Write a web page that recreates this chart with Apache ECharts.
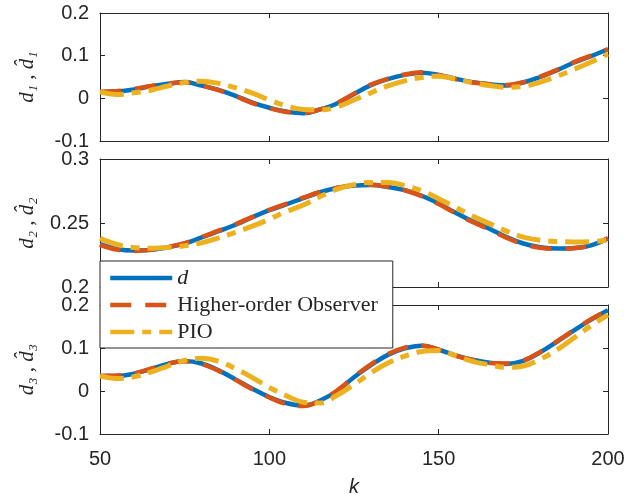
<!DOCTYPE html>
<html><head><meta charset="utf-8">
<script src="https://cdn.jsdelivr.net/npm/echarts@6/dist/echarts.min.js"></script>
<style>html,body{margin:0;padding:0;background:#fff}#c{width:643px;height:499px}</style>
</head><body><div id="c"></div><script>
const k = [50,55,60,65,70,75,80,85,90,95,100,105,110,115,120,125,130,135,140,145,150,155,160,165,170,175,180,185,190,195,200];

const d1 = [0.015,0.016,0.021,0.028,0.034,0.038,0.030,0.020,0.006,-0.010,-0.022,-0.031,-0.035,-0.026,-0.012,0.010,0.031,0.045,0.055,0.060,0.055,0.046,0.038,0.033,0.030,0.037,0.050,0.066,0.084,0.099,0.115];
const h1 = [0.015,0.017,0.022,0.029,0.035,0.037,0.030,0.019,0.005,-0.011,-0.023,-0.032,-0.034,-0.026,-0.011,0.011,0.032,0.046,0.056,0.061,0.055,0.045,0.037,0.033,0.031,0.038,0.051,0.067,0.085,0.100,0.115];
const p1 = [0.015,0.009,0.013,0.019,0.029,0.037,0.040,0.035,0.025,0.012,-0.004,-0.018,-0.026,-0.027,-0.020,-0.004,0.013,0.029,0.041,0.049,0.052,0.045,0.037,0.030,0.026,0.028,0.038,0.052,0.068,0.085,0.104];

const d2 = [0.2334,0.2297,0.2285,0.2290,0.2310,0.2340,0.2387,0.2436,0.2486,0.2545,0.2600,0.2645,0.2695,0.2740,0.2773,0.2792,0.2797,0.2782,0.2757,0.2713,0.2652,0.2580,0.2513,0.2455,0.2390,0.2340,0.2310,0.2300,0.2305,0.2325,0.2380];
const h2 = [0.2330,0.2292,0.2282,0.2290,0.2312,0.2343,0.2390,0.2440,0.2490,0.2548,0.2603,0.2650,0.2698,0.2742,0.2775,0.2795,0.2798,0.2783,0.2756,0.2710,0.2648,0.2576,0.2508,0.2450,0.2385,0.2336,0.2306,0.2298,0.2303,0.2325,0.2380];
const p2 = [0.2380,0.2332,0.2308,0.2302,0.2308,0.2322,0.2345,0.2384,0.2427,0.2475,0.2530,0.2590,0.2640,0.2707,0.2764,0.2800,0.2817,0.2817,0.2792,0.2752,0.2690,0.2622,0.2555,0.2495,0.2437,0.2390,0.2365,0.2355,0.2352,0.2354,0.2367];

const d3 = [0.035,0.035,0.040,0.051,0.063,0.070,0.064,0.048,0.027,0.005,-0.014,-0.028,-0.034,-0.022,0.000,0.032,0.060,0.084,0.099,0.105,0.096,0.083,0.073,0.066,0.063,0.070,0.090,0.115,0.141,0.166,0.188];
const h3 = [0.035,0.036,0.041,0.052,0.064,0.069,0.063,0.047,0.026,0.004,-0.015,-0.030,-0.035,-0.023,0.001,0.033,0.062,0.086,0.101,0.106,0.096,0.082,0.072,0.065,0.064,0.071,0.091,0.116,0.142,0.167,0.189];
const p3 = [0.035,0.029,0.033,0.044,0.058,0.071,0.076,0.069,0.052,0.031,0.008,-0.011,-0.026,-0.028,-0.010,0.015,0.042,0.065,0.081,0.092,0.094,0.082,0.069,0.061,0.055,0.058,0.074,0.096,0.124,0.152,0.177];

const xTicks = [50, 100, 150, 200];
const yRanges = [[-0.1, 0.2, 0.1], [0.2, 0.3, 0.05], [-0.1, 0.2, 0.1]];
const yNames = ['d\u2081 , d\u0302\u2081', 'd\u2082 , d\u0302\u2082', 'd\u2083 , d\u0302\u2083'];
const names = ['d', 'Higher-order Observer', 'PIO'];

const AX = '#262626';
const grids = [
  {left: 100, top: 13, width: 508, height: 128},
  {left: 100, top: 159, width: 508, height: 128},
  {left: 100, top: 305, width: 508, height: 129}
];
const xAxes = [], yAxes = [], series = [];
const sets = [[d1,h1,p1],[d2,h2,p2],[d3,h3,p3]];
const colors = ['#0072BD', '#D95319', '#EDB120'];
const dashes = ['solid', [21, 14], [24, 8, 9, 8]];
const widths = [4.5, 4.5, 5];

grids.forEach((g, gi) => {
  ['bottom', 'top'].forEach(pos => {
    xAxes.push({
      type: 'value', gridIndex: gi, position: pos, min: xTicks[0], max: xTicks[xTicks.length-1], interval: 50,
      axisLine: {show: true, onZero: false, lineStyle: {color: AX, width: 1}},
      axisTick: {show: true, inside: true, length: 5, lineStyle: {color: AX}},
      splitLine: {show: false},
      axisLabel: {show: gi === 2 && pos === 'bottom', color: AX, fontFamily: 'Liberation Sans', fontSize: 20, margin: 15},
      name: (gi === 2 && pos === 'bottom') ? 'k' : '',
      nameLocation: 'middle', nameGap: 43,
      nameTextStyle: {color: AX, fontFamily: 'Liberation Sans', fontStyle: 'italic', fontSize: 20}
    });
  });
  const r = yRanges[gi];
  ['left', 'right'].forEach(pos => {
    yAxes.push({
      type: 'value', gridIndex: gi, position: pos, min: r[0], max: r[1], interval: r[2],
      axisLine: {show: true, onZero: false, lineStyle: {color: AX, width: 1}},
      axisTick: {show: true, inside: true, length: 5, lineStyle: {color: AX}},
      splitLine: {show: false},
      axisLabel: {show: pos === 'left', color: AX, fontFamily: 'Liberation Sans', fontSize: 20, margin: 11,
        formatter: v => String(+v.toFixed(2))},
      name: pos === 'left' ? yNames[gi] : '',
      nameLocation: 'middle', nameGap: 62, nameRotate: 90,
      nameTextStyle: {color: AX, fontFamily: 'Liberation Serif', fontStyle: 'italic', fontSize: 21}
    });
  });
  sets[gi].forEach((arr, si) => {
    series.push({
      type: 'line', name: names[si], xAxisIndex: gi*2, yAxisIndex: gi*2,
      data: k.map((x, i) => [x, arr[i]]),
      smooth: 0.4, symbol: 'none', animation: false,
      lineStyle: {color: colors[si], width: widths[si], type: dashes[si], cap: 'butt'},
      itemStyle: {color: colors[si]},
      z: 2 + si
    });
  });
});

const chart = echarts.init(document.getElementById('c'), null, {renderer: 'canvas'});
chart.setOption({
  animation: false,
  backgroundColor: '#fff',
  grid: grids,
  xAxis: xAxes,
  yAxis: yAxes,
  series: series,
  legend: {
    data: names, orient: 'vertical', left: 100, top: 261,
    backgroundColor: '#fff', borderColor: AX, borderWidth: 1, borderRadius: 0,
    padding: [6, 15, 5, 8], itemGap: 5, itemWidth: 62, itemHeight: 14,
    selectedMode: false, z: 10,
    itemStyle: {color: 'rgba(0,0,0,0)', borderWidth: 0, opacity: 0},
    lineStyle: {width: 4.5},
    textStyle: {color: AX, fontFamily: 'Liberation Serif', fontSize: 22,
      rich: {i: {fontFamily: 'Liberation Serif', fontStyle: 'italic', fontSize: 22, color: AX}}},
    formatter: n => n === 'd' ? '{i|d}' : n
  }
});
</script></body></html>
